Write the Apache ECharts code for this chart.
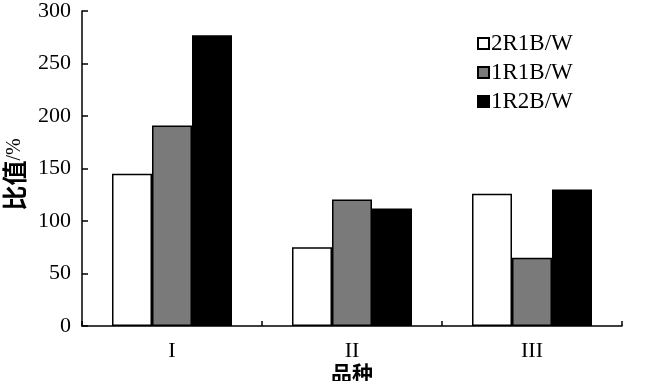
<!DOCTYPE html>
<html>
<head>
<meta charset="utf-8">
<script src="https://cdn.jsdelivr.net/npm/echarts@6/dist/echarts.min.js"></script>
<style>html,body{margin:0;padding:0;background:#fff}#c{width:658px;height:381px}</style>
</head>
<body>
<div id="c"></div>
<script>
var categories = ['I', 'II', 'III'];
var seriesNames = ['2R1B/W', '1R1B/W', '1R2B/W'];
var values2R1B = [145, 75, 126];
var values1R1B = [191, 120.5, 65];
var values1R2B = [277, 112, 130];
var yTicks = [0, 50, 100, 150, 200, 250, 300];
var xAxisTitle = '品种';

var serif = '"Liberation Serif", "DejaVu Serif", serif';
var cjk = '"Noto Sans CJK SC", sans-serif';
var colors = ['#ffffff', '#7a7a7a', '#000000'];
var allValues = [values2R1B, values1R1B, values1R2B];

var chart = echarts.init(document.getElementById('c'), null, {renderer: 'canvas'});
chart.setOption({
  animation: false,
  backgroundColor: '#fff',
  title: {
    text: xAxisTitle,
    left: 331,
    top: 361,
    padding: 0,
    textStyle: {fontFamily: cjk, fontSize: 21, fontWeight: 'bold', color: '#000', lineHeight: 24}
  },
  grid: {left: 82, right: 36, top: 11, bottom: 55, containLabel: false, outerBoundsMode: 'none'},
  legend: {
    orient: 'vertical',
    left: 477,
    top: 32,
    padding: 0,
    itemWidth: 11,
    itemHeight: 11,
    itemGap: 6,
    icon: 'rect',
    textStyle: {fontFamily: serif, fontSize: 23, color: '#000', padding: [0, 0, 0, -3]},
    data: seriesNames
  },
  xAxis: {
    type: 'category',
    data: categories,
    axisLine: {show: true, lineStyle: {color: '#000', width: 1.5}},
    axisTick: {show: true, inside: true, length: 5, lineStyle: {color: '#000', width: 1.5}},
    axisLabel: {fontFamily: serif, fontSize: 22, color: '#000', margin: 14},
    splitLine: {show: false}
  },
  yAxis: {
    type: 'value',
    min: 0,
    max: 300,
    interval: 50,
    name: '{a|比值}{b|/%}',
    nameLocation: 'middle',
    nameRotate: 90,
    nameGap: 54,
    nameTextStyle: {
      padding: [0, 12, 0, 0],
      rich: {
        a: {fontFamily: cjk, fontSize: 25, fontWeight: 'bold', color: '#000'},
        b: {fontFamily: serif, fontSize: 20, color: '#000'}
      }
    },
    axisLine: {show: true, lineStyle: {color: '#000', width: 1.5}},
    axisTick: {show: true, inside: true, length: 6, lineStyle: {color: '#000', width: 1.5}},
    axisLabel: {fontFamily: serif, fontSize: 22, color: '#000', margin: 11,
      formatter: function (v) { return yTicks.indexOf(v) >= 0 ? String(v) : ''; }},
    splitLine: {show: false}
  },
  series: seriesNames.map(function (n, i) {
    return {
      name: n,
      type: 'bar',
      data: allValues[i],
      barWidth: 40,
      barGap: '0%',
      barCategoryGap: '33.3%',
      itemStyle: {color: colors[i], borderColor: '#000', borderWidth: 1.5}
    };
  })
});
</script>
</body>
</html>
